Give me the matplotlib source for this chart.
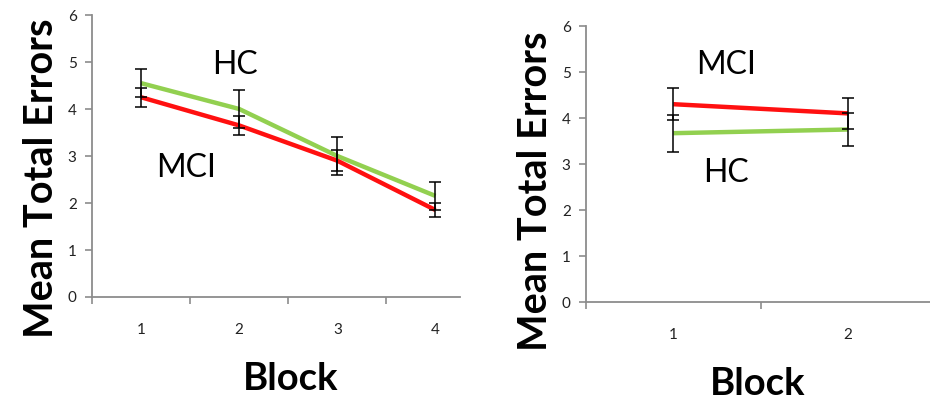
import numpy as np
import matplotlib
matplotlib.use('Agg')
import matplotlib.pyplot as plt

plt.rcParams['font.family'] = ['Lato', 'DejaVu Sans']

# left panel: 4 blocks
blocks_a = [1, 2, 3, 4]
hc_a = [4.55, 4.0, 3.0, 2.15]
hc_a_err = [0.3, 0.4, 0.4, 0.3]
mci_a = [4.25, 3.65, 2.9, 1.85]
mci_a_err = [0.2, 0.2, 0.22, 0.15]

# right panel: 2 blocks
blocks_b = [1, 2]
hc_b = [3.67, 3.75]
hc_b_err = [0.4, 0.36]
mci_b = [4.3, 4.1]
mci_b_err = [0.35, 0.33]

red = '#ff1010'
green = '#92d050'
gray = '#8c8c8c'

fig = plt.figure(figsize=(9.3, 4.0), dpi=100)
ax1 = fig.add_axes([92/930, 103/400, 368/930, 282/400])
ax2 = fig.add_axes([586/930, 98/400, 344/930, 276/400])


def style(ax, xmax, nb, ylab_y):
    ax.set_ylim(0, 6)
    ax.set_xlim(0.5, xmax)
    for s in ['top', 'right']:
        ax.spines[s].set_visible(False)
    for s in ['left', 'bottom']:
        ax.spines[s].set_color(gray)
        ax.spines[s].set_linewidth(1.3)
    ax.set_yticks(range(7))
    ax.tick_params(axis='y', colors=gray, length=5, width=1.2, labelsize=11,
                   labelcolor='#222222', pad=6)
    ax.set_xticks(np.arange(0.5, nb + 0.5, 1.0))
    ax.set_xticklabels([])
    ax.tick_params(axis='x', which='major', colors=gray, length=5, width=1.2)
    ax.set_xticks(range(1, nb + 1), minor=True)
    ax.set_xticklabels([str(i) for i in range(1, nb + 1)], minor=True)
    ax.tick_params(axis='x', which='minor', length=0, labelsize=11,
                   labelcolor='#222222', pad=19)
    ax.set_xlabel('Block', fontsize=27.5, fontweight='bold', labelpad=18)
    ax.set_ylabel('Mean Total Errors', fontsize=28.5, fontweight='bold', labelpad=6)
    ax.yaxis.label.set_position((0, ylab_y))


ax1.plot(blocks_a, hc_a, color=green, lw=3.2, solid_capstyle='butt')
ax1.plot(blocks_a, mci_a, color=red, lw=3.2, solid_capstyle='butt')
ax1.errorbar(blocks_a, hc_a, yerr=hc_a_err, fmt='none', ecolor='black', elinewidth=1.1, capsize=4, capthick=1.1)
ax1.errorbar(blocks_a, mci_a, yerr=mci_a_err, fmt='none', ecolor='black', elinewidth=1.1, capsize=4, capthick=1.1)
ax1.text(1.96, 4.94, 'HC', fontsize=23, ha='center', va='center')
ax1.text(1.46, 2.74, 'MCI', fontsize=23, ha='center', va='center')
style(ax1, 4.25, 4, 0.42)
ax1.xaxis.label.set_position((0.54, 0))

ax2.plot(blocks_b, mci_b, color=red, lw=3.2, solid_capstyle='butt')
ax2.plot(blocks_b, hc_b, color=green, lw=3.2, solid_capstyle='butt')
ax2.errorbar(blocks_b, mci_b, yerr=mci_b_err, fmt='none', ecolor='black', elinewidth=1.1, capsize=4, capthick=1.1)
ax2.errorbar(blocks_b, hc_b, yerr=hc_b_err, fmt='none', ecolor='black', elinewidth=1.1, capsize=4, capthick=1.1)
ax2.text(1.30, 5.15, 'MCI', fontsize=23, ha='center', va='center')
ax2.text(1.30, 2.8, 'HC', fontsize=23, ha='center', va='center')
style(ax2, 2.47, 2, 0.40)

plt.savefig('out.png', dpi=100)
